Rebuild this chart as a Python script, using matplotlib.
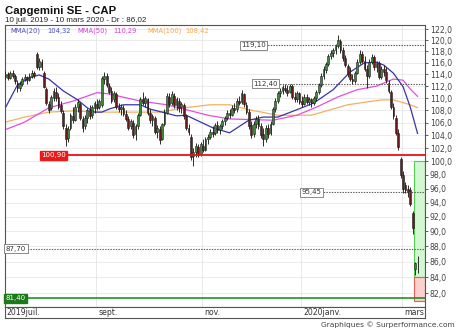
import numpy as np
import matplotlib
matplotlib.use('Agg')
import matplotlib.pyplot as plt
from matplotlib.patches import Rectangle
from matplotlib.ticker import FixedLocator, NullLocator, FuncFormatter

# ---------------- data ----------------
opens = [113.6, 114.0, 113.4, 114.2, 113.8, 112.6, 111.6, 112.4, 113.2, 113.6,
         113.0, 113.8, 114.2, 117.6, 115.2, 116.2, 114.3, 111.5, 109.0, 108.3,
         110.0, 111.0, 110.2, 108.8, 107.6, 105.2, 103.6, 105.2, 107.0, 106.5,
         108.6, 109.0, 106.6, 105.4, 106.8, 108.0, 107.2, 108.4, 109.0, 108.5,
         108.8, 113.2, 113.8, 112.0, 111.2, 109.8, 110.6, 108.6, 108.2, 108.4,
         107.4, 106.6, 105.4, 106.0, 104.2, 105.4, 107.2, 109.8, 109.2, 109.8,
         107.6, 106.4, 106.8, 104.6, 105.0, 103.4, 105.8, 107.6, 110.2, 109.2,
         110.4, 108.8, 109.6, 108.6, 108.8, 107.0, 105.2, 103.8, 100.8, 101.4,
         102.2, 101.2, 102.4, 101.8, 103.4, 103.8, 104.6, 104.4, 105.6, 104.8,
         105.4, 106.2, 106.8, 107.6, 107.2, 108.4, 108.2, 109.6, 109.4, 110.6,
         108.8, 107.8, 105.6, 104.2, 105.8, 106.6, 105.4, 104.2, 103.4, 105.2,
         104.4, 105.8, 108.2, 109.6, 110.8, 111.2, 111.6, 111.4, 111.0, 112.0,
         110.2, 109.8, 110.8, 109.6, 109.0, 110.2, 109.4, 109.8, 109.2, 110.0,
         111.0, 112.2, 113.8, 114.8, 115.8, 117.2, 117.8, 118.2, 119.0, 119.8,
         118.2, 116.8, 115.4, 114.0, 113.2, 112.8, 114.2, 116.2, 117.6, 116.4,
         115.0, 113.8, 116.2, 117.0, 115.2, 116.0, 113.6, 115.0, 114.4, 112.6,
         111.0, 108.6, 106.8, 104.4, 100.4, 98.0, 96.5, 96.0, 95.8, 92.5,
         85.0, 85.9]
highs = [114.6, 114.4, 114.6, 114.8, 114.0, 113.0, 112.8, 113.6, 114.0, 113.8,
         114.2, 114.8, 114.6, 117.9, 116.8, 116.6, 114.5, 111.8, 109.5, 110.5,
         111.6, 111.8, 110.8, 109.5, 108.0, 105.8, 105.5, 107.6, 108.5, 109.0,
         109.8, 109.3, 107.0, 107.2, 108.4, 108.9, 108.8, 109.6, 109.9, 109.8,
         113.8, 114.4, 114.2, 112.6, 111.8, 111.2, 111.0, 109.2, 109.0, 108.9,
         108.0, 107.0, 106.6, 106.4, 105.8, 107.6, 110.2, 111.0, 110.4, 110.0,
         108.2, 107.4, 107.0, 105.6, 105.4, 106.0, 108.2, 110.8, 110.9, 111.2,
         110.8, 110.2, 110.0, 109.4, 109.2, 107.4, 105.8, 104.2, 102.0, 102.8,
         102.6, 103.0, 103.4, 103.8, 104.2, 105.0, 105.4, 106.0, 106.2, 105.8,
         106.6, 107.0, 108.0, 108.2, 108.8, 109.2, 110.0, 110.4, 111.4, 110.9,
         109.4, 108.2, 106.2, 106.2, 107.0, 107.2, 106.0, 105.2, 105.6, 105.8,
         106.2, 108.6, 110.0, 111.2, 111.6, 112.2, 112.4, 112.2, 112.4, 112.3,
         111.0, 111.2, 111.0, 110.4, 110.6, 110.6, 110.2, 110.0, 110.4, 111.4,
         112.6, 114.2, 115.4, 116.2, 117.6, 118.2, 118.6, 119.4, 121.0, 120.2,
         118.8, 117.4, 115.8, 115.2, 114.0, 114.6, 116.6, 118.2, 118.0, 117.2,
         115.6, 116.6, 117.6, 117.4, 116.4, 116.4, 115.4, 115.6, 115.2, 113.0,
         111.4, 109.2, 107.2, 105.0, 100.7, 98.5, 97.0, 96.5, 96.2, 92.8,
         85.9, 86.8]
lows = [113.2, 113.0, 113.2, 113.4, 112.4, 111.0, 111.2, 112.0, 112.8, 112.4,
        112.8, 113.4, 113.4, 114.9, 114.8, 114.8, 111.6, 108.8, 107.6, 108.0,
        109.5, 109.6, 108.2, 107.5, 105.0, 102.3, 103.0, 104.8, 106.0, 106.2,
        107.8, 106.5, 104.6, 105.0, 106.0, 106.6, 106.8, 107.6, 108.0, 108.2,
        108.6, 112.4, 111.8, 110.6, 109.2, 109.4, 108.2, 107.8, 107.2, 107.0,
        106.2, 104.8, 105.0, 103.6, 103.2, 105.0, 107.0, 108.8, 108.6, 107.2,
        106.0, 105.4, 104.2, 103.6, 102.6, 103.2, 105.4, 107.4, 108.6, 108.8,
        108.4, 108.0, 107.8, 107.6, 106.6, 104.8, 104.0, 100.2, 99.3, 100.6,
        100.6, 100.8, 101.4, 101.6, 102.6, 103.4, 103.8, 104.0, 104.4, 104.2,
        105.0, 105.6, 106.4, 106.8, 107.0, 107.6, 107.8, 108.8, 109.0, 108.6,
        107.4, 105.0, 103.6, 103.8, 105.2, 105.0, 103.6, 102.4, 103.0, 103.6,
        104.0, 105.6, 107.8, 109.2, 110.2, 110.6, 111.0, 110.4, 110.8, 109.8,
        109.4, 109.4, 109.0, 108.6, 108.8, 109.0, 108.8, 108.6, 108.8, 109.6,
        110.6, 111.8, 113.2, 114.2, 115.4, 116.6, 117.0, 117.6, 118.6, 117.8,
        116.4, 115.2, 113.6, 112.8, 112.4, 112.6, 114.0, 115.8, 116.0, 114.6,
        111.6, 113.4, 115.8, 114.8, 114.4, 113.2, 113.2, 113.8, 112.6, 110.8,
        108.2, 106.6, 104.0, 101.7, 97.5, 95.4, 95.3, 94.8, 93.5, 89.6,
        84.3, 84.6]
closes = [114.0, 113.4, 114.2, 113.8, 112.8, 111.6, 112.4, 113.2, 113.6, 113.0,
          113.8, 114.2, 113.9, 115.3, 116.4, 115.2, 111.9, 109.2, 108.0, 110.2,
          111.2, 110.0, 108.5, 107.9, 105.4, 103.5, 105.0, 107.2, 106.5, 108.6,
          109.4, 106.8, 105.2, 106.8, 108.0, 107.0, 108.5, 109.2, 108.4, 109.5,
          113.4, 113.8, 112.2, 111.0, 109.6, 110.8, 108.6, 108.2, 108.5, 107.4,
          106.6, 105.2, 106.2, 104.0, 105.4, 107.2, 109.8, 109.2, 110.0, 107.6,
          106.4, 107.0, 104.6, 105.2, 103.2, 105.8, 107.8, 110.4, 109.0, 110.6,
          108.8, 109.8, 108.4, 109.0, 107.0, 105.2, 104.6, 100.6, 101.4, 102.4,
          101.0, 102.6, 101.8, 103.4, 103.8, 104.6, 104.2, 105.6, 104.8, 105.4,
          106.2, 106.8, 107.6, 107.2, 108.4, 108.0, 109.6, 109.2, 110.8, 109.0,
          107.8, 105.4, 104.0, 105.8, 106.6, 105.4, 104.0, 103.4, 105.2, 104.2,
          105.8, 108.2, 109.6, 110.8, 111.2, 111.8, 111.4, 110.8, 112.0, 110.2,
          109.8, 110.8, 109.4, 109.0, 110.2, 109.4, 109.8, 109.2, 110.0, 111.0,
          112.2, 113.8, 115.0, 115.8, 117.2, 117.8, 118.2, 119.0, 120.0, 118.2,
          116.8, 115.6, 114.0, 113.2, 112.8, 114.2, 116.2, 117.6, 116.4, 115.0,
          113.8, 116.2, 117.0, 115.2, 116.0, 113.6, 115.0, 114.4, 113.0, 111.2,
          108.6, 107.0, 104.4, 102.2, 98.0, 96.0, 95.8, 95.5, 93.8, 90.5,
          85.8, 86.02]

# moving averages (day index, value)
mma20_idx = [0, 5, 10, 14, 18, 24, 30, 34, 37, 40, 43, 49, 56, 60, 65, 71, 75, 81, 86, 93,
             101, 107, 113, 121, 128, 136, 143, 149, 154, 157, 161, 165, 168, 171]
mma20_val = [108.4, 112.2, 113.4, 113.9, 113.2, 111.2, 109.7, 108.4, 107.7, 107.7,
             108.2, 108.9, 108.9, 108.2, 107.7, 107.1, 107.2, 106.1, 105.2, 104.4,
             106.4, 106.9, 106.9, 108.1, 109.2, 111.4, 114.4, 116.0, 116.1, 115.6,
             114.2, 111.9, 108.5, 104.32]
mma50_idx = [0, 8, 18, 28, 38, 43, 56, 67, 75, 84, 93, 111, 121, 129, 138, 146, 154,
             161, 165, 168, 171]
mma50_val = [104.9, 106.1, 108.4, 109.5, 110.9, 110.7, 109.5, 108.9, 108.1, 107.2,
             106.6, 106.4, 107.2, 108.5, 110.2, 111.4, 112.0, 113.2, 113.0, 111.5, 110.29]
mma100_idx = [0, 8, 18, 28, 41, 56, 64, 74, 85, 93, 101, 113, 127, 142, 156, 161, 168, 171]
mma100_val = [106.1, 106.9, 107.7, 107.9, 107.7, 107.7, 107.7, 108.4, 108.9, 108.9,
              108.1, 107.2, 107.2, 108.9, 109.7, 109.7, 108.9, 108.42]
mma_last = [104.32, 110.29, 108.42]

levels_solid = [100.90, 81.40]
levels_dotted = [119.10, 112.40, 95.45, 87.70]
zone_top, zone_mid, zone_bottom = 100.0, 84.07, 81.0

month_labels = ['2019juil.', 'sept.', 'nov.', '2020janv.', 'mars']
month_idx = [0, 38, 82, 123, 165]
yticks = [82, 84, 86, 88, 90, 92, 94, 96, 98, 100, 102, 104, 106, 108, 110,
          112, 114, 116, 118, 120, 122]

title = 'Capgemini SE - CAP'
subtitle = '10 juil. 2019 - 10 mars 2020 - Dr : 86,02'
credit = 'Graphiques \u00a9 Surperformance.com'

# ---------------- layout ----------------
W, H = 460, 331
fig = plt.figure(figsize=(W / 100, H / 100), dpi=100)
fig.patch.set_facecolor('white')


def fx(px):
    return px / W


def fy(py):
    return 1 - py / H


L, R, T, B = 4.5, 425, 24.5, 306.5
ax = fig.add_axes([fx(L), fy(B), fx(R) - fx(L), fy(T) - fy(B)])
ax.set_yscale('log')
XMIN, XMAX = -0.37, 174.1
ax.set_xlim(XMIN, XMAX)
ax.set_ylim(80.39, 122.88)

# grid
for v in yticks:
    ax.axhline(v, color='#e8e8e8', lw=0.6, zorder=0)
for m in month_idx[1:]:
    ax.axvline(m - 0.5, color='#e4e4e4', lw=0.6, zorder=0)

# zones
ax.add_patch(Rectangle((169.5, zone_mid), XMAX - 169.5, zone_top - zone_mid,
                       facecolor='#d2f7d2', edgecolor='#55cc55', lw=0.8, zorder=1))
ax.add_patch(Rectangle((169.5, zone_bottom), XMAX - 169.5, zone_mid - zone_bottom,
                       facecolor='#fbd0d0', edgecolor='#e06060', lw=0.8, zorder=1))

# moving averages
ax.plot(mma100_idx, mma100_val, color='#f4b060', lw=0.9, zorder=2)
ax.plot(mma50_idx, mma50_val, color='#e050e0', lw=0.9, zorder=2)
ax.plot(mma20_idx, mma20_val, color='#3535aa', lw=0.9, zorder=2)

# candles
o = np.array(opens)
h = np.array(highs)
lo = np.array(lows)
c = np.array(closes)
idx = np.arange(len(c))
up = c >= o
ax.vlines(idx, lo, h, color='#1e1e1e', lw=0.65, zorder=3)
bot = np.minimum(o, c)
hgt = np.maximum(np.abs(c - o), 0.12)
ax.bar(idx, hgt, bottom=bot, width=0.74,
       color=np.where(up, '#3a8a3a', '#6a1818'),
       edgecolor='#1e1e1e', linewidth=0.4, zorder=4)

# level lines
lbl_font = dict(fontsize=5.0, family='DejaVu Sans')
# red 100.90
ax.hlines(levels_solid[0], 14.8, XMAX, color='#f01010', lw=1.3, zorder=5)
ax.text(14.8, levels_solid[0], '100,90', ha='left', va='center', color='white', zorder=6,
        bbox=dict(boxstyle='square,pad=0.2', fc='#e81a1a', ec='#e81a1a'), **lbl_font)
# green 81.40
ax.hlines(levels_solid[1], 0.2, XMAX, color='#108a10', lw=1.1, zorder=5)
ax.text(0.2, levels_solid[1], '81,40', ha='left', va='center', color='white', zorder=6,
        bbox=dict(boxstyle='square,pad=0.2', fc='#1a7a1a', ec='#1a7a1a'), **lbl_font)
# dotted levels
dotted_start = [97.8, 102.7, 123.0, 0.2]
for v, xs in zip(levels_dotted, dotted_start):
    ax.hlines(v, xs, XMAX, color='#555555', lw=0.8, linestyles=(0, (1.2, 1.2)), zorder=5)
    ax.text(xs, v, f'{v:.2f}'.replace('.', ','), ha='left', va='center', color='#333333',
            zorder=6, bbox=dict(boxstyle='square,pad=0.2', fc='white', ec='#777777', lw=0.6),
            **lbl_font)

# MMA legend
leg_y = fy(30.5)
items = [('MMA(20)', '#4a4ac0', 10), (f'{mma_last[0]:.2f}', '#4a4ac0', 47),
         ('MMA(50)', '#d040d0', 77), (f'{mma_last[1]:.2f}', '#d040d0', 113),
         ('MMA(100)', '#f0a850', 147), (f'{mma_last[2]:.2f}', '#f0a850', 185)]
for txt, col, px in items:
    fig.text(fx(px), leg_y, txt.replace('.', ','), color=col, fontsize=4.9,
             family='DejaVu Sans', ha='left', va='center')

# axes styling
ax.set_xticks([])
ax.yaxis.tick_right()
ax.yaxis.set_major_locator(FixedLocator(yticks))
ax.yaxis.set_minor_locator(NullLocator())
ax.yaxis.set_major_formatter(FuncFormatter(lambda v, p: f'{v:.1f}'.replace('.', ',')))
ax.tick_params(axis='y', which='major', labelsize=5.6, length=2.5, width=0.6,
               colors='#444444', pad=1)
for lab in ax.get_yticklabels():
    lab.set_family('DejaVu Sans')
for s in ax.spines.values():
    s.set_color('#555555')
    s.set_linewidth(0.8)

# month strip
sx = fig.add_axes([fx(L), fy(318), fx(R) - fx(L), fy(B) - fy(318)])
sx.set_xlim(XMIN, XMAX)
sx.set_ylim(0, 1)
sx.set_xticks([])
sx.set_yticks([])
for s in sx.spines.values():
    s.set_color('#555555')
    s.set_linewidth(0.8)
for lab, m in zip(month_labels, month_idx):
    xpos = m + 0.6 if m > 0 else 0.6
    if lab == 'mars':
        sx.text(XMAX - 0.3, 0.45, lab, ha='right', va='center', fontsize=5.6,
                family='DejaVu Sans', color='#333333')
    else:
        sx.text(xpos, 0.45, lab, ha='left', va='center', fontsize=5.6,
                family='DejaVu Sans', color='#333333')

# titles
fig.text(fx(5), fy(13.5), title, fontsize=8.2, fontweight='bold',
         family='Liberation Sans', ha='left', va='baseline', color='#111111')
fig.text(fx(5), fy(21.8), subtitle, fontsize=5.8, family='Liberation Sans',
         ha='left', va='baseline', color='#222222')
fig.text(fx(455), fy(324.5), credit, fontsize=5.4, family='DejaVu Sans',
         ha='right', va='center', color='#444444')

fig.savefig('out.png', dpi=100, facecolor='white')
